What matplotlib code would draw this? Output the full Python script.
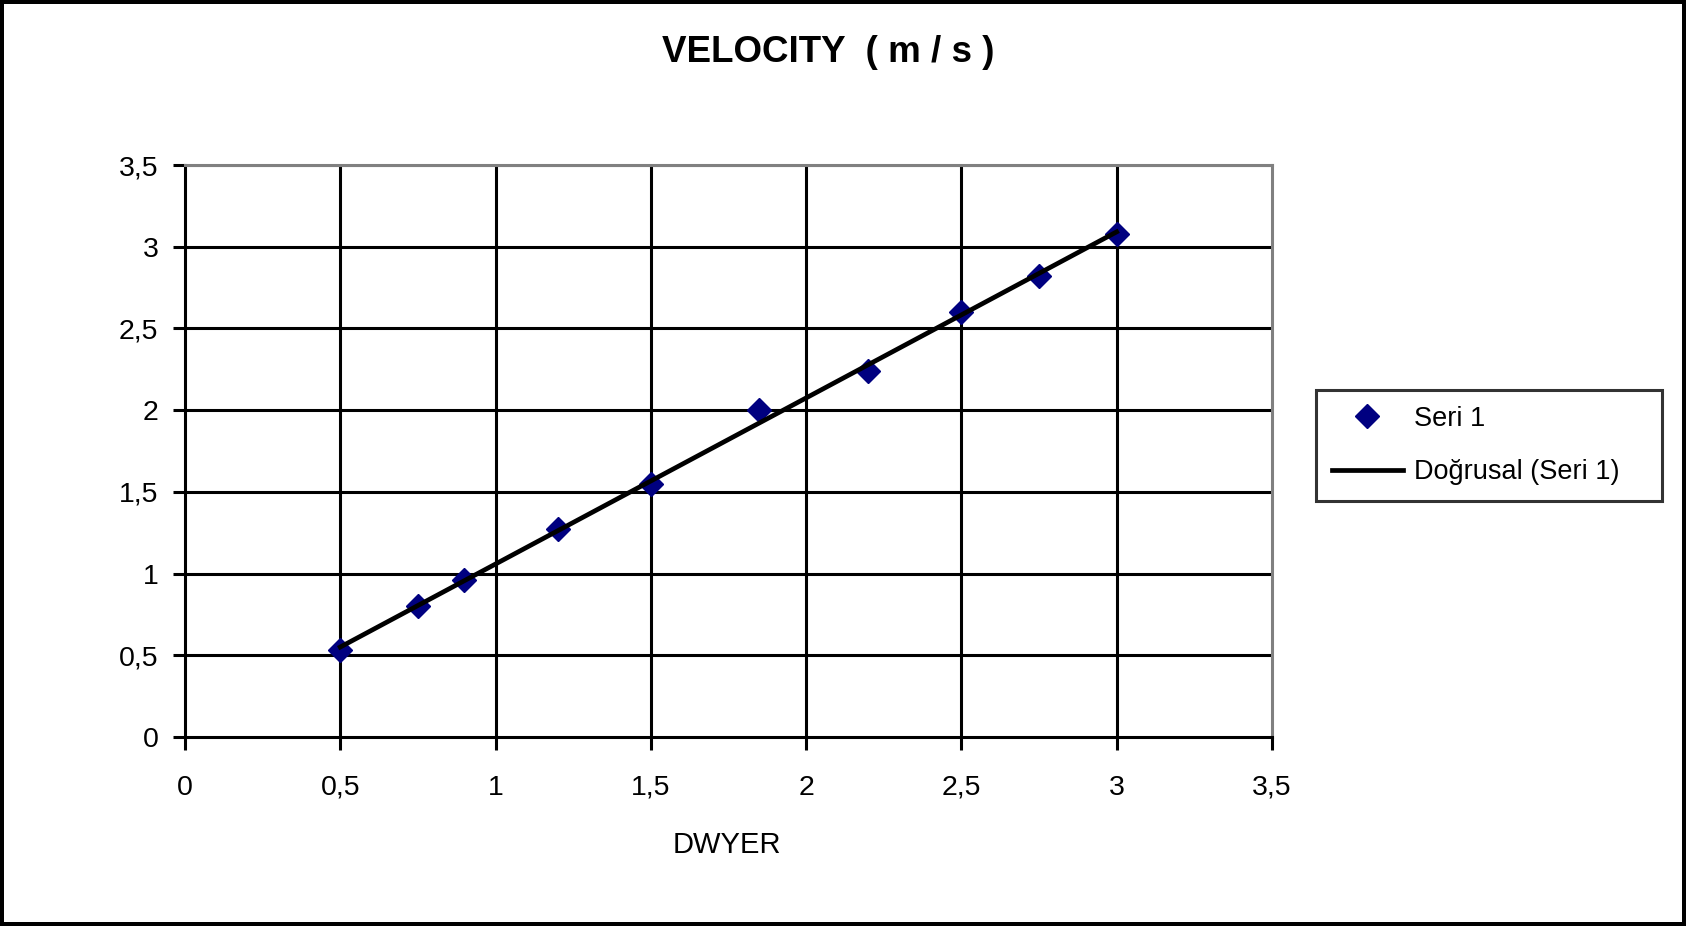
import numpy as np
import matplotlib.pyplot as plt
from matplotlib.lines import Line2D

# ===== DATA =====
dwyer = [0.5, 0.75, 0.9, 1.2, 1.5, 1.85, 2.2, 2.5, 2.75, 3.0]
velocity = [0.53, 0.80, 0.96, 1.27, 1.55, 2.0, 2.24, 2.6, 2.82, 3.08]
ticks = [0, 0.5, 1, 1.5, 2, 2.5, 3, 3.5]
tick_labels = ["0", "0,5", "1", "1,5", "2", "2,5", "3", "3,5"]

plt.rcParams['font.family'] = ['Liberation Sans', 'DejaVu Sans']

fig = plt.figure(figsize=(16.86, 9.26), dpi=100,
                 edgecolor='black', linewidth=4.5)
ax = fig.add_axes([0.1097, 0.2041, 0.6447, 0.6177])

# ===== GRID =====
for t in ticks[1:-1]:
    ax.axvline(t, color='black', lw=2.2, zorder=1)
    ax.axhline(t, color='black', lw=2.2, zorder=1)
ax.axhline(3.5, color='#808080', lw=2.2, zorder=1)

# ===== SCATTER + TREND =====
ax.plot(dwyer, velocity, linestyle='none', marker='D', markersize=12,
        color='#000080', zorder=3)
k, b = np.polyfit(dwyer, velocity, 1)
xs = np.array([min(dwyer), max(dwyer)])
ax.plot(xs, k * xs + b, color='black', lw=3.4, zorder=4)

ax.set_xlim(0, 3.5)
ax.set_ylim(0, 3.5)
ax.set_xticks(ticks)
ax.set_xticklabels(tick_labels)
ax.set_yticks(ticks)
ax.set_yticklabels(tick_labels)
ax.tick_params(axis='both', direction='out', length=9, width=2.2,
               labelsize=20.5, color='black')
ax.tick_params(axis='x', pad=18)
ax.tick_params(axis='y', pad=10)

for side in ['left', 'bottom']:
    ax.spines[side].set_linewidth(2.2)
    ax.spines[side].set_color('black')
for side in ['top', 'right']:
    ax.spines[side].set_linewidth(2.2)
    ax.spines[side].set_color('#808080')

# ===== TEXT =====
fig.text(828 / 1686, 1 - 53 / 926, "VELOCITY  ( m / s )", ha='center',
         va='center', fontsize=26.5, fontweight='bold')
fig.text(727 / 1686, 1 - 845 / 926, "DWYER", ha='center', va='center',
         fontsize=21)

# ===== LEGEND =====
handles = [Line2D([], [], linestyle='none', marker='D', markersize=12,
                  color='#000080'),
           Line2D([], [], color='black', lw=3.4)]
leg = fig.legend(handles, ["Seri 1", "Doğrusal (Seri 1)"],
                 loc='center left', mode='expand',
                 bbox_to_anchor=(1316 / 1686, 1 - 498 / 926,
                                 346 / 1686, 105 / 926),
                 fontsize=19.5, frameon=True, fancybox=False, handlelength=2.6,
                 handletextpad=0.4, labelspacing=1.0, borderpad=0.6,
                 borderaxespad=0)
leg.get_frame().set_edgecolor('black')
leg.get_frame().set_linewidth(2.2)

plt.savefig("out.png", dpi=100)
